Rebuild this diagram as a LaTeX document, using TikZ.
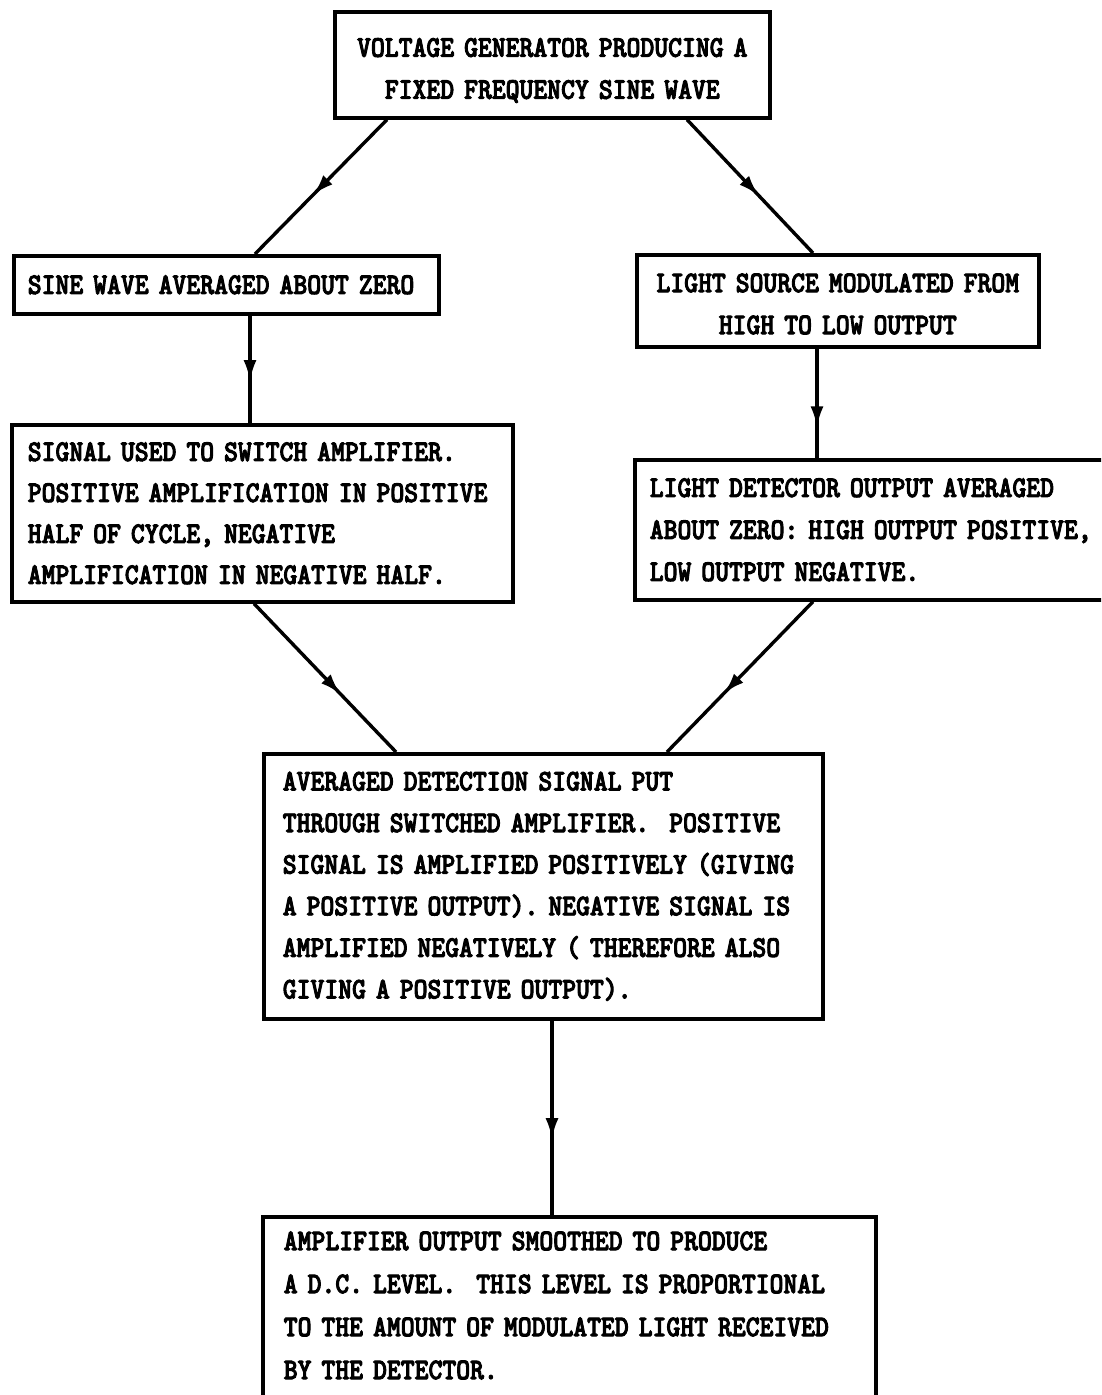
\documentclass[tikz,border=0pt]{standalone}
\usepackage{fontspec}
\newfontfamily\boxfont[FakeStretch=0.88,FakeBold=3]{lmmonolt10-bold.otf}
\usetikzlibrary{arrows.meta,decorations.markings,calc}
\newcommand\rowtext[1]{\mbox{#1}}
\tikzset{
  box/.style={draw, line width=3.6pt, anchor=north west, inner sep=0pt,
    font=\boxfont\fontsize{30}{42}\selectfont},
  flow/.style={line width=3.4pt, postaction={decorate},
    decoration={markings, mark=at position #1 with {\arrow{Latex[length=21pt,width=13pt]}}}},
  flow/.default=0.6
}
\begin{document}
\begin{tikzpicture}[x=1pt,y=-1pt]
\frenchspacing
\hbadness=10000 \hfuzz=100pt
\useasboundingbox (0,0) rectangle (1101,1395);
\fill[white] (0,0) rectangle (1101,1395);
\clip (0,0) rectangle (1101,1395);

\node[box, minimum width=435, minimum height=106, text width=405, align=center] (b1) at (333,10)
  {\rowtext{\rule{0pt}{30pt}VOLTAGE GENERATOR PRODUCING A}\\\rowtext{FIXED FREQUENCY SINE WAVE}};

\node[box, minimum width=425, minimum height=58, text width=397, align=left] (b2) at (12,254)
  {\rowtext{SINE WAVE AVERAGED ABOUT ZERO}};

\node[box, minimum width=402, minimum height=92, text width=380, align=center] (b3) at (635,253)
  {\rowtext{\rule{0pt}{25pt}LIGHT SOURCE MODULATED FROM}\\\rowtext{HIGH TO LOW OUTPUT}};

\node[box, minimum width=501, minimum height=177, text width=469, align=left,
      font=\boxfont\fontsize{30}{41}\selectfont] (b4) at (10,423)
  {\rowtext{SIGNAL USED TO SWITCH AMPLIFIER.}\\\rowtext{POSITIVE AMPLIFICATION IN POSITIVE}\\\rowtext{HALF OF CYCLE, NEGATIVE}\\\rowtext{AMPLIFICATION IN NEGATIVE HALF.}};

\node[box, minimum width=497, minimum height=140, text width=467, align=left] (b5) at (633,458)
  {\rowtext{LIGHT DETECTOR OUTPUT AVERAGED}\\\rowtext{ABOUT ZERO: HIGH OUTPUT POSITIVE,}\\\rowtext{LOW OUTPUT NEGATIVE.}};

\node[box, minimum width=559, minimum height=265, text width=521, align=left,
      font=\boxfont\fontsize{30}{41.6}\selectfont] (b6) at (262,752)
  {\rowtext{AVERAGED DETECTION SIGNAL PUT}\\\rowtext{THROUGH SWITCHED AMPLIFIER.\ \ POSITIVE}\\\rowtext{SIGNAL IS AMPLIFIED POSITIVELY (GIVING}\\\rowtext{A POSITIVE OUTPUT). NEGATIVE SIGNAL IS}\\\rowtext{AMPLIFIED NEGATIVELY ( THEREFORE ALSO}\\\rowtext{GIVING A POSITIVE OUTPUT).}};

\node[box, minimum width=613, minimum height=186, text width=571, align=left,
      font=\boxfont\fontsize{30}{43}\selectfont] (b7) at (261,1215)
  {\rowtext{AMPLIFIER OUTPUT SMOOTHED TO PRODUCE}\\\rowtext{A D.C. LEVEL.\ \ THIS LEVEL IS PROPORTIONAL}\\\rowtext{TO THE AMOUNT OF MODULATED LIGHT RECEIVED}\\\rowtext{BY THE DETECTOR.\rule[-9pt]{0pt}{9pt}}};

% connectors
\draw[flow=0.56] ($(b1.south west)+(54,0)$) -- ($(b2.north west)+(243,0)$);
\draw[flow=0.57] ($(b1.south west)+(354,0)$) -- ($(b3.north west)+(178,0)$);

\coordinate (p2) at ($(b2.south west)+(238,0)$);
\draw[flow=0.61] (p2) -- (p2 |- b4.north);
\coordinate (p3) at ($(b3.south west)+(182,0)$);
\draw[flow=0.72] (p3) -- (p3 |- b5.north);

\draw[flow=0.61] ($(b4.south west)+(244,0)$) -- ($(b6.north west)+(134,0)$);
\draw[flow=0.61] ($(b5.south west)+(180,0)$) -- ($(b6.north west)+(405,0)$);

\coordinate (p6) at ($(b6.south west)+(290,0)$);
\draw[flow=0.61] (p6) -- (p6 |- b7.north);
\end{tikzpicture}
\end{document}
